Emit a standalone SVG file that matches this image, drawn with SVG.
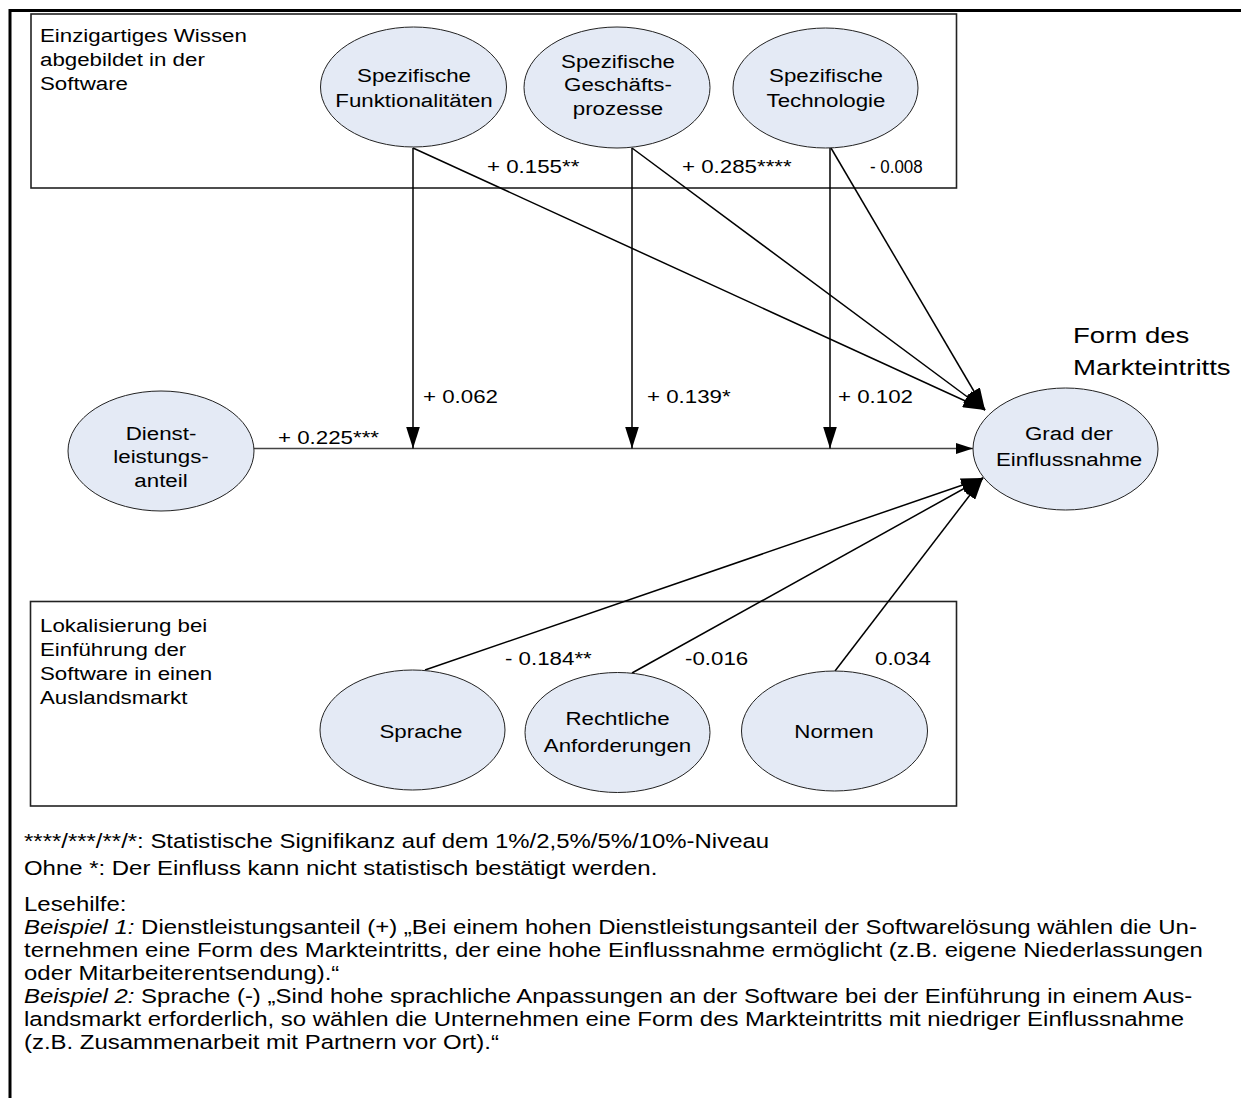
<svg xmlns="http://www.w3.org/2000/svg" width="1241" height="1098" viewBox="0 0 1241 1098">
<style>
text{font-family:"Liberation Sans",Arial,sans-serif;fill:#000}
.n{font-size:18.2px;text-anchor:middle}
.l{font-size:18.2px}
.b{font-size:19.5px}
.f{font-size:22.5px}
.el{fill:#e4eaf5;stroke:#222;stroke-width:1}
.box{fill:none;stroke:#222;stroke-width:1.6}
.ar{stroke:#000;stroke-width:1.5;fill:none}
.hz{stroke:#444;stroke-width:1.5;fill:none}
</style>
<defs>
<marker id="big" markerUnits="userSpaceOnUse" markerWidth="22" markerHeight="14" refX="22" refY="7" orient="auto"><path d="M0,0 L22,7 L0,14 z" fill="#000"/></marker>
<marker id="sm" markerUnits="userSpaceOnUse" markerWidth="17" markerHeight="11" refX="17" refY="5.5" orient="auto"><path d="M0,0 L17,5.5 L0,11 z" fill="#000"/></marker>
</defs>
<rect width="1241" height="1098" fill="#fff"/>
<path d="M10,1098 V10.5 H1241" fill="none" stroke="#000" stroke-width="3"/>

<g id="box-wissen">
<rect class="box" x="31" y="14" width="925.5" height="174"/>
<text class="l" transform="translate(40,42) scale(1.225 1)"><tspan x="0">Einzigartiges Wissen</tspan><tspan x="0" dy="24">abgebildet in der</tspan><tspan x="0" dy="24">Software</tspan></text>
</g>
<g id="box-lokal">
<rect class="box" x="30.5" y="601.5" width="926" height="204.5"/>
<text class="l" transform="translate(40,632) scale(1.225 1)"><tspan x="0">Lokalisierung bei</tspan><tspan x="0" dy="24">Einführung der</tspan><tspan x="0" dy="24">Software in einen</tspan><tspan x="0" dy="24">Auslandsmarkt</tspan></text>
</g>

<g id="connectors">
<line class="hz" x1="254" y1="448.5" x2="973" y2="448.5" marker-end="url(#sm)"/>
<line class="ar" x1="413" y1="148" x2="413" y2="448.5" marker-end="url(#big)"/>
<line class="ar" x1="632" y1="148" x2="632" y2="448.5" marker-end="url(#big)"/>
<line class="ar" x1="830" y1="148" x2="830" y2="448.5" marker-end="url(#big)"/>
<line class="ar" x1="413" y1="148" x2="985" y2="410" marker-end="url(#big)"/>
<line class="ar" x1="632" y1="148" x2="985" y2="410" marker-end="url(#big)"/>
<line class="ar" x1="831" y1="148" x2="985" y2="410" marker-end="url(#big)"/>
<line class="ar" x1="425" y1="670" x2="983" y2="478" marker-end="url(#big)"/>
<line class="ar" x1="632" y1="673" x2="983" y2="478" marker-end="url(#big)"/>
<line class="ar" x1="835" y1="671" x2="983" y2="478" marker-end="url(#big)"/>
<text class="l" transform="translate(487,173) scale(1.225 1)">+ 0.155**</text>
<text class="l" transform="translate(682,173) scale(1.225 1)">+ 0.285****</text>
<text class="l" transform="translate(870,173) scale(1.225 1)" textLength="43" lengthAdjust="spacingAndGlyphs">- 0.008</text>
<text class="l" transform="translate(278,444) scale(1.225 1)">+ 0.225***</text>
<text class="l" transform="translate(423,403) scale(1.225 1)">+ 0.062</text>
<text class="l" transform="translate(647,403) scale(1.225 1)">+ 0.139*</text>
<text class="l" transform="translate(838,403) scale(1.225 1)">+ 0.102</text>
<text class="l" transform="translate(505,665) scale(1.225 1)">- 0.184**</text>
<text class="l" transform="translate(685,665) scale(1.225 1)">-0.016</text>
<text class="l" transform="translate(875,665) scale(1.225 1)">0.034</text>
</g>

<g id="node-funktionalitaeten">
<ellipse class="el" cx="413.5" cy="87" rx="93" ry="60"/>
<text class="n" transform="translate(414,82) scale(1.225 1)"><tspan x="0">Spezifische</tspan><tspan x="0" dy="25">Funktionalitäten</tspan></text>
</g>
<g id="node-geschaeftsprozesse">
<ellipse class="el" cx="617" cy="87.5" rx="93" ry="60.5"/>
<text class="n" transform="translate(618,68) scale(1.225 1)"><tspan x="0">Spezifische</tspan><tspan x="0" dy="23.5">Geschäfts-</tspan><tspan x="0" dy="23.5">prozesse</tspan></text>
</g>
<g id="node-technologie">
<ellipse class="el" cx="825.5" cy="88" rx="92.5" ry="60"/>
<text class="n" transform="translate(826,82) scale(1.225 1)"><tspan x="0">Spezifische</tspan><tspan x="0" dy="25">Technologie</tspan></text>
</g>
<g id="node-dienstleistung">
<ellipse class="el" cx="161" cy="451" rx="93" ry="60"/>
<text class="n" transform="translate(161,440) scale(1.225 1)"><tspan x="0">Dienst-</tspan><tspan x="0" dy="23.5">leistungs-</tspan><tspan x="0" dy="23.5">anteil</tspan></text>
</g>
<g id="node-grad">
<ellipse class="el" cx="1065.5" cy="449" rx="92.5" ry="61"/>
<text class="n" transform="translate(1069,440) scale(1.225 1)"><tspan x="0">Grad der</tspan><tspan x="0" dy="26">Einflussnahme</tspan></text>
</g>
<text class="f" transform="translate(1073,343) scale(1.225 1)"><tspan x="0">Form des</tspan><tspan x="0" dy="32">Markteintritts</tspan></text>
<g id="node-sprache">
<ellipse class="el" cx="412.5" cy="730" rx="92.5" ry="60"/>
<text class="n" transform="translate(421,738) scale(1.225 1)">Sprache</text>
</g>
<g id="node-rechtliche">
<ellipse class="el" cx="617.5" cy="732.5" rx="92.5" ry="60"/>
<text class="n" transform="translate(617.5,725) scale(1.225 1)"><tspan x="0">Rechtliche</tspan><tspan x="0" dy="27">Anforderungen</tspan></text>
</g>
<g id="node-normen">
<ellipse class="el" cx="834.5" cy="731" rx="93" ry="60"/>
<text class="n" transform="translate(834,738) scale(1.225 1)">Normen</text>
</g>

<g id="legend">
<text class="b" transform="translate(24,848) scale(1.228 1)">****/***/**/*: Statistische Signifikanz auf dem 1%/2,5%/5%/10%-Niveau</text>
<text class="b" transform="translate(24,875) scale(1.228 1)">Ohne *: Der Einfluss kann nicht statistisch bestätigt werden.</text>
<text class="b" transform="translate(24,911) scale(1.228 1)"><tspan x="0">Lesehilfe:</tspan><tspan x="0" dy="23"><tspan font-style="italic">Beispiel 1:</tspan> Dienstleistungsanteil (+) „Bei einem hohen Dienstleistungsanteil der Softwarelösung wählen die Un-</tspan><tspan x="0" dy="23">ternehmen eine Form des Markteintritts, der eine hohe Einflussnahme ermöglicht (z.B. eigene Niederlassungen</tspan><tspan x="0" dy="23">oder Mitarbeiterentsendung).“</tspan><tspan x="0" dy="23"><tspan font-style="italic">Beispiel 2:</tspan> Sprache (-) „Sind hohe sprachliche Anpassungen an der Software bei der Einführung in einem Aus-</tspan><tspan x="0" dy="23">landsmarkt erforderlich, so wählen die Unternehmen eine Form des Markteintritts mit niedriger Einflussnahme</tspan><tspan x="0" dy="23">(z.B. Zusammenarbeit mit Partnern vor Ort).“</tspan></text>
</g>
</svg>
